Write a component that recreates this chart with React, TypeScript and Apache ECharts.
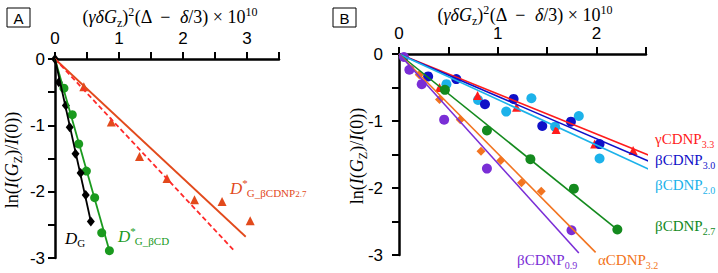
import React, { useEffect, useRef } from "react";
import * as echarts from "echarts";

// ---------- Panel A data ----------
const xTickLabelsA = ["0", "1", "2", "3"];
const yTickLabelsA = ["0", "-1", "-2", "-3"];
const dgA = [[0, 0], [0.06, -0.35], [0.17, -0.7], [0.23, -1.03], [0.32, -1.43], [0.4, -1.72], [0.48, -2.05], [0.56, -2.45]];
const dgFitA = [[0, 0], [0.56, -2.45]];
const bcdA = [[0.14, -0.44], [0.27, -0.84], [0.37, -1.28], [0.49, -1.69], [0.62, -2.09], [0.73, -2.62], [0.85, -2.89]];
const bcdFitA = [[0, 0], [0.85, -2.89]];
const bcdnpA = [[0.45, -0.42], [0.88, -0.95], [1.32, -1.47], [1.75, -1.8], [2.18, -2.12], [2.61, -2.15], [3.05, -2.44]];
const bcdnpFitA = [[0, 0], [2.98, -2.68]];
const bcdnpDashA = [[0, 0], [2.79, -2.88]];

// ---------- Panel B data ----------
const xTickLabelsB = ["0", "1", "2"];
const yTickLabelsB = ["0", "-1", "-2", "-3"];
const g33B = [[0.41, -0.5], [0.795, -0.62], [1.19, -0.795], [1.59, -1.125], [1.98, -1.345], [2.37, -1.44]];
const g33FitB = [[0, 0], [2.53, -1.51]];
const b30B = [[0.295, -0.335], [0.58, -0.375], [0.87, -0.75], [1.16, -0.67], [1.45, -1.075], [1.74, -1.01], [2.03, -1.345]];
const b30FitB = [[0, 0], [2.53, -1.6]];
const b20B = [[0.48, -0.45], [0.8, -0.685], [1.085, -0.86], [1.34, -0.66], [1.58, -1.085], [1.82, -0.925], [2.03, -1.56]];
const b20FitB = [[0, 0], [2.53, -1.72]];
const b27B = [[0.465, -0.535], [0.89, -1.14], [1.33, -1.57], [1.77, -2.01], [2.21, -2.62]];
const b27FitB = [[0, 0], [2.21, -2.62]];
const a32B = [[0.205, -0.31], [0.41, -0.68], [0.62, -0.98], [0.83, -1.45], [1.03, -1.59], [1.24, -1.92], [1.44, -2.05]];
const a32FitB = [[0, 0], [1.99, -2.96]];
const b09B = [[0.05, -0.045], [0.105, -0.235], [0.23, -0.45], [0.457, -0.98], [0.89, -1.71], [1.746, -2.63]];
const b09FitB = [[0, 0], [1.82, -2.97]];

const SERIF = "'Liberation Serif', 'Times New Roman', serif";
const SANS = "'Liberation Sans', Arial, sans-serif";

const C = {
  black: "#000000",
  greenA: "#1a9a1e",
  orangeRedA: "#e24a1c",
  redDashA: "#ff2a2a",
  red: "#ff1c1c",
  darkBlue: "#1010c8",
  lightBlue: "#1cb2ea",
  green: "#148a1e",
  orange: "#f27420",
  purple: "#7a2ed6",
};

function labelFormatter(labels: string[]) {
  return (v: number) => {
    const s = String(Math.round(v));
    if (Math.abs(v - Math.round(v)) < 1e-6 && labels.indexOf(s) >= 0) return s;
    return "";
  };
}

function xAxisCfg(grid: number, max: number, labels: string[]) {
  return {
    gridIndex: grid,
    type: "value",
    position: "top",
    min: 0,
    max,
    interval: 0.5,
    axisLine: { show: true, onZero: false, lineStyle: { color: "#000", width: 2.5 } },
    axisTick: { show: true, inside: false, length: 7, lineStyle: { color: "#000", width: 2 } },
    axisLabel: {
      formatter: labelFormatter(labels),
      margin: 12,
      fontSize: 17,
      fontFamily: SANS,
      color: "#000",
      showMinLabel: true,
      showMaxLabel: true,
    },
    splitLine: { show: false },
  };
}

function yAxisCfg(grid: number, labels: string[], margin: number) {
  return {
    gridIndex: grid,
    type: "value",
    position: "left",
    min: -3,
    max: 0,
    interval: 0.5,
    axisLine: { show: true, onZero: false, lineStyle: { color: "#000", width: 2.5 } },
    axisTick: { show: true, inside: false, length: 7, lineStyle: { color: "#000", width: 2 } },
    axisLabel: {
      formatter: labelFormatter(labels),
      margin,
      fontSize: 17,
      fontFamily: SANS,
      color: "#000",
      showMinLabel: true,
      showMaxLabel: true,
    },
    splitLine: { show: false },
  };
}

function scatter(grid: number, data: number[][], symbol: string, size: any, color: string, z: number) {
  return {
    type: "scatter",
    xAxisIndex: grid,
    yAxisIndex: grid,
    data,
    symbol,
    symbolSize: size,
    itemStyle: { color, opacity: 1 },
    z,
    silent: true,
  };
}

function fit(grid: number, data: number[][], color: string, width: number, dashed = false) {
  return {
    type: "line",
    xAxisIndex: grid,
    yAxisIndex: grid,
    data,
    showSymbol: false,
    symbol: "none",
    clip: false,
    lineStyle: { color, width, type: dashed ? [5, 3] : "solid" },
    z: 10,
    silent: true,
  };
}

const baseRich = (size: number, sub: number, lh: number) => ({
  i: { fontFamily: SERIF, fontSize: size, fontStyle: "italic", lineHeight: lh },
  sub: { fontFamily: SERIF, fontSize: sub, verticalAlign: "bottom" },
  sup: { fontFamily: SERIF, fontSize: sub, verticalAlign: "top" },
  star: { fontFamily: SERIF, fontSize: sub, verticalAlign: "top", padding: [0, -1, 0, 0] },
  ss: { fontFamily: SERIF, fontSize: sub - 2, verticalAlign: "bottom" },
});

function richText(x: number, y: number, text: string, fill: string, size: number, sub: number, lh: number, align = "left", rotation = 0) {
  return {
    type: "text",
    x,
    y,
    rotation,
    silent: true,
    style: {
      text,
      fill,
      fontFamily: SERIF,
      fontSize: size,
      lineHeight: lh,
      align,
      verticalAlign: "middle",
      rich: baseRich(size, sub, lh),
    },
  };
}

function plainText(x: number, y: number, text: string, fill: string, size: number, family: string, italic = false, align = "left") {
  return {
    type: "text",
    x,
    y,
    silent: true,
    style: {
      text,
      fill,
      fontFamily: family,
      fontSize: size,
      fontStyle: italic ? "italic" : "normal",
      align,
      verticalAlign: "middle",
    },
  };
}

const titleText = "({i|γδG}{sub|z}){sup|2}(Δ  −  {i|δ}/3) × 10{sup|10}";
const yNameText = "ln({i|I}({i|G}{sub|Z})/{i|I}(0))";

export default function App() {
  const ref = useRef<HTMLDivElement>(null);
  useEffect(() => {
    if (!ref.current) return;
    const chart = echarts.init(ref.current, null, { renderer: "svg" });
    const option = {
      animation: false,
      backgroundColor: "#ffffff",
      grid: [
        { left: 55, top: 59, width: 224, height: 199 },
        { left: 399, top: 54, width: 247, height: 201 },
      ],
      xAxis: [xAxisCfg(0, 3.5, xTickLabelsA), xAxisCfg(1, 2.5, xTickLabelsB)],
      yAxis: [yAxisCfg(0, yTickLabelsA, 10), yAxisCfg(1, yTickLabelsB, 16)],
      series: [
        // Panel A
        scatter(0, bcdnpA, "triangle", 9, C.orangeRedA, 3),
        scatter(0, bcdA, "circle", 9, C.greenA, 4),
        scatter(0, dgA, "diamond", [8, 10], C.black, 5),
        fit(0, bcdnpFitA, C.orangeRedA, 1.8),
        fit(0, bcdnpDashA, C.redDashA, 1.8, true),
        fit(0, bcdFitA, C.greenA, 1.8),
        fit(0, dgFitA, C.black, 1.8),
        // Panel B
        scatter(1, b20B, "circle", 10, C.lightBlue, 3),
        scatter(1, g33B, "triangle", 9, C.red, 4),
        scatter(1, b30B, "circle", 10, C.darkBlue, 5),
        scatter(1, b27B, "circle", 10, C.green, 5),
        scatter(1, a32B, "diamond", [9, 9], C.orange, 5),
        scatter(1, b09B, "circle", 10, C.purple, 6),
        fit(1, g33FitB, C.red, 1.6),
        fit(1, b30FitB, C.darkBlue, 1.6),
        fit(1, b20FitB, C.lightBlue, 1.6),
        fit(1, b27FitB, C.green, 1.6),
        fit(1, a32FitB, C.orange, 1.6),
        fit(1, b09FitB, C.purple, 1.6),
      ],
      graphic: [
        // panel letters
        { type: "rect", shape: { x: 7, y: 8, width: 23, height: 19 }, style: { fill: "#fff", stroke: "#000", lineWidth: 1 }, silent: true },
        plainText(18.5, 18, "A", "#000", 15, SANS, false, "center"),
        { type: "rect", shape: { x: 333, y: 8, width: 23, height: 19 }, style: { fill: "#fff", stroke: "#000", lineWidth: 1 }, silent: true },
        plainText(344.5, 18, "B", "#000", 15, SANS, false, "center"),
        // titles
        richText(170, 17, titleText, "#000", 18, 12, 23, "center"),
        richText(525, 15, titleText, "#000", 18, 12, 23, "center"),
        // y names
        richText(12, 160, yNameText, "#000", 18, 12, 23, "center", Math.PI / 2),
        richText(357, 156, yNameText, "#000", 18, 12, 23, "center", Math.PI / 2),
        // panel A labels
        richText(65, 238, "{i|D}{sub|G}", C.black, 17, 11, 21),
        richText(118, 236, "{i|D}{star|*}{sub|G_βCD}", C.greenA, 17, 11, 21),
        richText(230, 188, "{i|D}{star|*}{sub|G_βCDNP}{ss|2.7}", C.orangeRedA, 17, 11, 21),
        // panel B labels
        richText(655, 139, "γCDNP{sub|3.3}", C.red, 15, 10, 20),
        richText(655, 160, "βCDNP{sub|3.0}", C.darkBlue, 15, 10, 20),
        richText(655, 185, "βCDNP{sub|2.0}", C.lightBlue, 15, 10, 20),
        richText(655, 226, "βCDNP{sub|2.7}", C.green, 15, 10, 20),
        richText(517, 260, "βCDNP{sub|0.9}", C.purple, 15, 10, 20),
        richText(598, 260, "αCDNP{sub|3.2}", C.orange, 15, 10, 20),
      ],
    };
    chart.setOption(option as any);
    return () => chart.dispose();
  }, []);
  return <div ref={ref} style={{ position: "absolute", left: 0, top: 0, width: 718, height: 273 }} />;
}
